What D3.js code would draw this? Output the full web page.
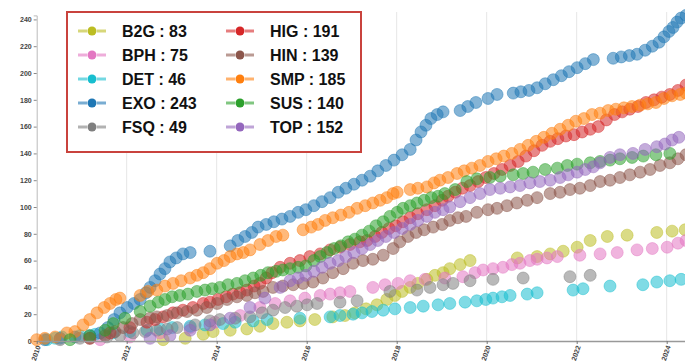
<!DOCTYPE html>
<html>
<head>
<meta charset="utf-8">
<script src="https://cdn.jsdelivr.net/npm/d3@7"></script>
<style>
  body { margin: 0; background: #fff; }
  svg { display: block; font-family: 'Liberation Sans', Arial, Helvetica, sans-serif; }
</style>
</head>
<body>
<div id="chart"></div>
<script>
// cumulative paper counts per venue, [year, count]
const B2G = [[2012.81,1],[2013.30,2],[2013.70,5],[2013.92,7],[2014.30,8],[2014.67,9],[2014.96,11],[2015.25,13],[2015.56,14],[2015.85,15],[2016.18,16],[2016.58,18],[2016.85,19],[2017.07,21],[2017.32,24],[2017.56,27],[2017.78,31],[2017.96,34],[2018.12,37],[2018.30,40],[2018.47,43],[2018.67,46],[2018.85,49],[2019.03,51],[2019.18,54],[2019.41,57],[2019.63,60],[2020.68,62],[2021.12,63],[2021.41,65],[2021.70,67],[2022.01,70],[2022.30,75],[2022.68,78],[2023.12,79],[2023.78,81],[2024.12,82],[2024.41,83]];
const BPH = [[2011.41,1],[2012.07,3],[2012.74,6],[2013.41,10],[2013.96,14],[2014.52,19],[2014.96,25],[2015.30,28],[2015.63,30],[2015.96,32],[2016.30,34],[2016.52,35],[2016.74,36],[2016.96,37],[2017.47,40],[2017.74,42],[2018.03,43],[2018.30,45],[2018.63,46],[2019.07,47],[2019.47,48],[2019.74,51],[2019.92,53],[2020.14,54],[2020.36,55],[2020.56,57],[2020.74,58],[2020.96,60],[2021.12,61],[2021.34,62],[2021.57,63],[2022.07,64],[2022.52,65],[2022.90,66],[2023.34,68],[2023.68,69],[2024.01,70],[2024.25,73],[2024.43,75]];
const DET = [[2010.23,1],[2010.41,2],[2010.56,3],[2010.96,4],[2011.30,5],[2011.70,6],[2012.07,7],[2012.45,8],[2012.74,9],[2013.01,10],[2013.41,11],[2013.74,12],[2014.14,13],[2014.41,14],[2014.81,15],[2015.12,16],[2015.85,17],[2016.52,18],[2016.74,19],[2017.03,20],[2017.23,21],[2017.45,22],[2017.70,23],[2017.96,24],[2018.30,25],[2018.59,26],[2018.92,27],[2019.18,28],[2019.52,29],[2019.78,30],[2019.98,31],[2020.14,32],[2020.34,33],[2020.52,34],[2020.90,35],[2021.12,36],[2021.92,38],[2022.14,39],[2022.74,41],[2023.47,42],[2023.78,44],[2024.07,45],[2024.32,46]];
const EXO = [[2010.18,1],[2010.52,2],[2010.85,3],[2011.18,4],[2011.41,6],[2011.58,10],[2011.72,16],[2011.85,21],[2012.01,25],[2012.16,28],[2012.30,31],[2012.43,36],[2012.52,40],[2012.63,45],[2012.74,50],[2012.85,54],[2012.96,59],[2013.10,62],[2013.25,65],[2013.41,66],[2013.85,67],[2014.30,71],[2014.47,75],[2014.63,78],[2014.78,81],[2014.92,85],[2015.10,87],[2015.27,89],[2015.45,91],[2015.63,93],[2015.81,96],[2015.98,98],[2016.16,101],[2016.34,104],[2016.52,107],[2016.70,111],[2016.87,114],[2017.05,117],[2017.23,120],[2017.41,123],[2017.58,127],[2017.76,131],[2017.94,135],[2018.12,139],[2018.30,143],[2018.43,150],[2018.54,156],[2018.65,161],[2018.76,166],[2018.90,169],[2019.03,171],[2019.41,172],[2019.58,175],[2019.76,178],[2020.03,181],[2020.23,184],[2020.59,185],[2020.76,186],[2020.94,187],[2021.12,189],[2021.30,192],[2021.48,195],[2021.66,198],[2021.83,201],[2022.01,204],[2022.19,207],[2022.37,210],[2022.81,211],[2022.99,212],[2023.17,213],[2023.34,214],[2023.52,217],[2023.68,220],[2023.83,223],[2023.94,227],[2024.05,231],[2024.14,234],[2024.23,238],[2024.32,241],[2024.43,243]];
const FSQ = [[2010.52,1],[2010.96,2],[2011.56,3],[2011.85,4],[2012.14,6],[2012.41,7],[2012.67,8],[2012.90,9],[2013.12,10],[2013.52,12],[2013.85,15],[2014.07,16],[2014.41,17],[2014.74,18],[2015.01,21],[2015.25,23],[2015.52,25],[2015.78,26],[2016.01,27],[2016.23,28],[2016.74,29],[2017.12,30],[2017.85,37],[2018.45,38],[2018.74,40],[2019.03,42],[2019.25,43],[2019.63,45],[2020.14,46],[2020.81,47],[2021.85,48],[2022.30,49]];
const HIG = [[2011.18,2],[2011.63,6],[2012.07,10],[2012.45,14],[2012.63,16],[2012.81,18],[2013.03,21],[2013.25,23],[2013.47,25],[2013.70,28],[2013.85,29],[2014.03,31],[2014.21,33],[2014.36,35],[2014.52,36],[2014.67,38],[2014.83,41],[2014.96,43],[2015.10,47],[2015.23,51],[2015.41,55],[2015.63,58],[2015.85,60],[2016.07,63],[2016.30,65],[2016.52,68],[2016.74,70],[2016.96,72],[2017.18,74],[2017.34,75],[2017.52,78],[2017.67,81],[2017.83,84],[2017.98,86],[2018.14,89],[2018.30,92],[2018.47,95],[2018.67,98],[2018.85,101],[2019.01,105],[2019.14,108],[2019.30,111],[2019.46,114],[2019.63,116],[2019.81,119],[2019.98,122],[2020.16,125],[2020.34,128],[2020.52,131],[2020.70,134],[2020.87,138],[2021.05,142],[2021.23,146],[2021.41,149],[2021.58,151],[2021.76,153],[2021.94,154],[2022.12,156],[2022.30,158],[2022.48,160],[2022.66,165],[2022.84,169],[2023.01,171],[2023.18,173],[2023.36,175],[2023.54,178],[2023.72,180],[2023.89,182],[2024.07,184],[2024.25,187],[2024.43,191]];
const HIN = [[2011.18,2],[2011.52,4],[2011.74,7],[2011.92,10],[2012.12,13],[2012.30,16],[2012.52,17],[2012.67,18],[2012.90,19],[2013.12,21],[2013.34,22],[2013.56,23],[2013.78,25],[2014.01,28],[2014.23,31],[2014.45,33],[2014.67,34],[2014.85,36],[2015.03,37],[2015.25,40],[2015.47,41],[2015.70,42],[2015.92,43],[2016.14,44],[2016.36,47],[2016.58,51],[2016.81,54],[2017.03,58],[2017.25,60],[2017.47,61],[2017.70,64],[2017.92,69],[2018.07,74],[2018.25,78],[2018.43,81],[2018.61,83],[2018.81,85],[2019.01,87],[2019.18,90],[2019.36,92],[2019.54,93],[2019.78,96],[2020.03,98],[2020.23,99],[2020.45,101],[2020.67,103],[2020.90,105],[2021.12,107],[2021.41,110],[2021.63,111],[2021.85,113],[2022.07,114],[2022.30,116],[2022.52,119],[2022.74,120],[2022.96,122],[2023.18,124],[2023.41,126],[2023.63,128],[2023.85,131],[2024.07,133],[2024.25,136],[2024.43,139]];
const SMP = [[2010.00,1],[2010.18,2],[2010.41,3],[2010.67,6],[2010.85,7],[2011.03,12],[2011.18,16],[2011.34,21],[2011.50,25],[2011.63,28],[2011.76,31],[2011.85,32],[2012.30,34],[2012.47,37],[2012.67,38],[2012.85,41],[2013.03,43],[2013.21,45],[2013.41,47],[2013.56,49],[2013.70,51],[2013.85,54],[2014.01,58],[2014.16,60],[2014.30,63],[2014.45,65],[2014.59,66],[2014.74,68],[2014.96,72],[2015.14,75],[2015.32,78],[2015.47,79],[2015.92,83],[2016.10,85],[2016.25,87],[2016.41,90],[2016.58,92],[2016.76,94],[2016.94,96],[2017.12,99],[2017.30,101],[2017.47,103],[2017.63,105],[2017.78,107],[2017.92,110],[2018.01,111],[2018.30,113],[2018.47,114],[2018.67,115],[2018.83,118],[2018.96,120],[2019.14,122],[2019.34,125],[2019.50,127],[2019.67,129],[2019.85,131],[2020.03,134],[2020.21,136],[2020.38,138],[2020.56,140],[2020.74,143],[2020.92,146],[2021.10,149],[2021.27,152],[2021.45,155],[2021.63,158],[2021.81,161],[2021.98,164],[2022.16,166],[2022.34,169],[2022.52,170],[2022.70,172],[2022.87,173],[2023.05,174],[2023.23,175],[2023.41,176],[2023.58,177],[2023.76,178],[2023.94,181],[2024.12,183],[2024.30,184],[2024.43,185]];
const SUS = [[2010.74,1],[2011.18,4],[2011.52,8],[2011.70,13],[2011.96,17],[2012.30,22],[2012.52,26],[2012.70,29],[2012.85,31],[2013.01,33],[2013.18,34],[2013.36,35],[2013.56,37],[2013.74,38],[2013.90,39],[2014.07,40],[2014.25,42],[2014.45,43],[2014.63,45],[2014.81,47],[2014.98,49],[2015.14,51],[2015.32,52],[2015.47,53],[2015.63,54],[2015.81,55],[2015.98,56],[2016.16,60],[2016.30,63],[2016.45,66],[2016.61,69],[2016.76,71],[2016.92,74],[2017.07,76],[2017.23,79],[2017.39,82],[2017.54,86],[2017.70,89],[2017.85,93],[2018.01,96],[2018.14,99],[2018.30,101],[2018.45,103],[2018.61,105],[2018.77,107],[2018.92,108],[2019.07,110],[2019.30,113],[2019.56,119],[2019.78,121],[2020.07,122],[2020.30,123],[2020.59,124],[2020.81,125],[2021.03,126],[2021.30,128],[2021.57,129],[2021.79,131],[2022.01,132],[2022.30,133],[2022.52,134],[2022.74,135],[2022.96,136],[2023.23,137],[2023.48,138],[2023.76,139],[2024.07,140]];
const TOP = [[2012.52,2],[2012.96,4],[2013.41,8],[2013.85,12],[2014.30,17],[2014.74,25],[2015.07,32],[2015.41,40],[2015.63,45],[2015.81,47],[2015.98,49],[2016.16,52],[2016.34,55],[2016.52,58],[2016.70,60],[2016.87,63],[2017.05,66],[2017.23,69],[2017.41,72],[2017.58,75],[2017.76,78],[2017.94,81],[2018.12,84],[2018.30,87],[2018.47,90],[2018.67,93],[2018.85,96],[2019.03,98],[2019.18,100],[2019.41,104],[2019.63,107],[2019.85,110],[2020.07,113],[2020.30,114],[2020.52,115],[2020.74,116],[2020.96,118],[2021.18,119],[2021.41,120],[2021.63,122],[2021.81,124],[2022.01,126],[2022.19,128],[2022.37,130],[2022.52,133],[2022.74,137],[2022.96,139],[2023.25,140],[2023.52,143],[2023.78,145],[2023.96,147],[2024.12,150],[2024.27,152]];

const names = ['B2G', 'BPH', 'DET', 'EXO', 'FSQ', 'HIG', 'HIN', 'SMP', 'SUS', 'TOP'];
const seriesData = [B2G, BPH, DET, EXO, FSQ, HIG, HIN, SMP, SUS, TOP];
const yearTicks = [2010, 2012, 2014, 2016, 2018, 2020, 2022, 2024];
const countTicks = [0, 20, 40, 60, 80, 100, 120, 140, 160, 180, 200, 220, 240];

const colorOf = {
  B2G: '#bcbd22', BPH: '#e377c2', DET: '#17becf', EXO: '#1f77b4', FSQ: '#7f7f7f',
  HIG: '#d62728', HIN: '#8c564b', SMP: '#ff7f0e', SUS: '#2ca02c', TOP: '#9467bd'
};

const width = 685, height = 363;
const margin = { top: 15.4, bottom: 22, left: 36.7 };

const series = names.map((name, i) => ({
  name: name,
  values: seriesData[i].map(d => ({ year: d[0], count: d[1] }))
}));

const svg = d3.select('#chart')
  .append('svg')
  .attr('width', width)
  .attr('height', height);

const x = d3.scaleLinear()
  .domain([2010, 2024.6])
  .range([margin.left, margin.left + 14.6 * 45]);

const y = d3.scaleLinear()
  .domain([0, d3.max(series, s => d3.max(s.values, d => d.count))])
  .range([height - margin.bottom, margin.top]);

// vertical grid
svg.append('g')
  .selectAll('line')
  .data(yearTicks.slice(1))
  .enter()
  .append('line')
  .attr('x1', d => x(d))
  .attr('x2', d => x(d))
  .attr('y1', y(0))
  .attr('y2', 12)
  .attr('stroke', '#e6e6e6')
  .attr('stroke-width', 1);

// y axis
const yAxis = svg.append('g')
  .attr('transform', `translate(${margin.left},0)`)
  .call(d3.axisLeft(y).tickValues(countTicks).tickSize(3).tickSizeOuter(3));
yAxis.select('.domain').attr('stroke', '#bbb');
yAxis.selectAll('.tick line').attr('stroke', '#888');
yAxis.selectAll('text')
  .attr('font-size', '7px')
  .attr('font-weight', 'bold')
  .attr('fill', '#444')
  .attr('x', -5);

// dots
svg.append('g')
  .selectAll('g')
  .data(series)
  .enter()
  .append('g')
  .attr('fill', d => colorOf[d.name])
  .attr('stroke', d => colorOf[d.name])
  .selectAll('circle')
  .data(d => d.values)
  .enter()
  .append('circle')
  .attr('cx', d => x(d.year))
  .attr('cy', d => y(d.count))
  .attr('r', 6)
  .attr('fill-opacity', 0.55)
  .attr('stroke-opacity', 0.45)
  .attr('stroke-width', 1);

// x axis
const xAxis = svg.append('g')
  .attr('transform', `translate(0,${y(0)})`)
  .call(d3.axisBottom(x).tickValues(yearTicks).tickFormat(d3.format('d')).tickSize(3).tickSizeOuter(0));
xAxis.select('.domain').attr('stroke', '#999').attr('stroke-width', 1.5);
xAxis.selectAll('.tick line').attr('stroke', '#777');
xAxis.selectAll('text')
  .attr('font-size', '7px')
  .attr('font-weight', 'bold')
  .attr('fill', '#444')
  .attr('x', -4)
  .attr('y', 3)
  .attr('dy', '0.35em')
  .attr('transform', 'rotate(-70)')
  .style('text-anchor', 'end');

// legend
const legend = svg.append('g');
legend.append('rect')
  .attr('x', 67)
  .attr('y', 12)
  .attr('width', 294)
  .attr('height', 140)
  .attr('fill', '#fff')
  .attr('stroke', '#c9433d')
  .attr('stroke-width', 2);

const items = legend.selectAll('g.item')
  .data(series)
  .enter()
  .append('g')
  .attr('class', 'item')
  .attr('transform', (d, i) => `translate(${i < 5 ? 92 : 240},${31 + (i % 5) * 24})`);

items.append('line')
  .attr('x1', -14).attr('x2', -5)
  .attr('stroke', d => colorOf[d.name])
  .attr('stroke-width', 3)
  .attr('stroke-opacity', 0.6);
items.append('line')
  .attr('x1', 5).attr('x2', 14)
  .attr('stroke', d => colorOf[d.name])
  .attr('stroke-width', 3)
  .attr('stroke-opacity', 0.6);
items.append('circle')
  .attr('r', 4.5)
  .attr('fill', d => colorOf[d.name]);
items.append('text')
  .attr('x', 30)
  .attr('dy', '0.36em')
  .attr('font-size', '16px')
  .attr('font-weight', 'bold')
  .attr('fill', '#111')
  .text(d => `${d.name} : ${d3.max(d.values, v => v.count)}`);
</script>
</body>
</html>
